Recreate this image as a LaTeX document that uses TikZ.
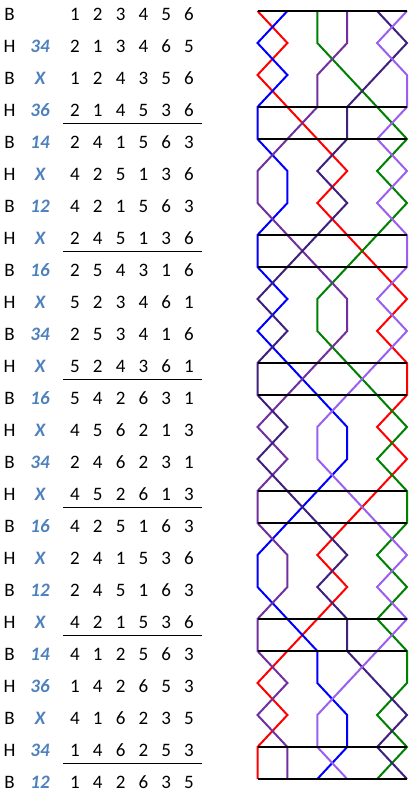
\documentclass[tikz,border=0pt]{standalone}
\usepackage{fontspec}
\setmainfont{Carlito}
\definecolor{labblue}{HTML}{4F81BD}
\definecolor{cA}{HTML}{FF0000}
\definecolor{cB}{HTML}{0000FF}
\definecolor{cC}{HTML}{008000}
\definecolor{cD}{HTML}{7030A0}
\definecolor{cE}{HTML}{40207F}
\definecolor{cF}{HTML}{9960F0}
\begin{document}
\begin{tikzpicture}[x=1pt,y=-1pt,
  lt/.style={anchor=base,inner sep=0pt,font=\fontsize{19}{23}\selectfont},
  pn/.style={anchor=base,inner sep=0pt,font=\fontsize{19}{23}\selectfont\bfseries\itshape,text=labblue},
  dg/.style={anchor=base,inner sep=0pt,font=\fontsize{19}{23}\selectfont},
  ul/.style={line width=1pt},
  bar/.style={line width=2.4pt},
  bell/.style={line width=2pt}]
\useasboundingbox (0,0) rectangle (415,797);
% table
\foreach \r/\pl/\lab/\a/\b/\c/\d/\e/\f in {
  0/B/{}/1/2/3/4/5/6,
  1/H/34/2/1/3/4/6/5,
  2/B/X/1/2/4/3/5/6,
  3/H/36/2/1/4/5/3/6,
  4/B/14/2/4/1/5/6/3,
  5/H/X/4/2/5/1/3/6,
  6/B/12/4/2/1/5/6/3,
  7/H/X/2/4/5/1/3/6,
  8/B/16/2/5/4/3/1/6,
  9/H/X/5/2/3/4/6/1,
  10/B/34/2/5/3/4/1/6,
  11/H/X/5/2/4/3/6/1,
  12/B/16/5/4/2/6/3/1,
  13/H/X/4/5/6/2/1/3,
  14/B/34/2/4/6/2/3/1,
  15/H/X/4/5/2/6/1/3,
  16/B/16/4/2/5/1/6/3,
  17/H/X/2/4/1/5/3/6,
  18/B/12/2/4/5/1/6/3,
  19/H/X/4/2/1/5/3/6,
  20/B/14/4/1/2/5/6/3,
  21/H/36/1/4/2/6/5/3,
  22/B/X/4/1/6/2/3/5,
  23/H/34/1/4/6/2/5/3,
  24/B/12/1/4/2/6/3/5}{
  \node[lt] (s\r) at (9.5,{20.7+32*\r}) {\pl};
  \node[pn] (n\r) at (40,{20.7+32*\r}) {\lab};
  \foreach[count=\i from 0] \dd in {\a,\b,\c,\d,\e,\f}
    \node[dg] (d\r-\i) at ({75+22.8*\i},{20.7+32*\r}) {\dd};
}
\foreach \r in {3,7,11,15,19,23}
  \draw[ul] (63,{27.2+32*\r}) -- (202,{27.2+32*\r});
% bell paths
\draw[bell,cA] (257.5,11) \foreach[count=\r] \p in {2,1,2,3,4,3,4,5,6,5,6,6,5,6,5,4,3,4,3,2,1,2,1,1} {-- ({257.5+29.9*(\p-1)},{11+32*\r})};
\draw[bell,cB] (287.4,11) \foreach[count=\r] \p in {1,2,1,1,2,2,1,1,2,1,2,3,4,4,3,2,1,1,2,3,3,4,4,3} {-- ({257.5+29.9*(\p-1)},{11+32*\r})};
\draw[bell,cC] (317.3,11) \foreach[count=\r] \p in {3,4,5,6,5,6,5,4,3,3,4,5,6,5,6,6,5,6,5,6,6,5,6,5} {-- ({257.5+29.9*(\p-1)},{11+32*\r})};
\draw[bell,cD] (347.2,11) \foreach[count=\r] \p in {4,3,3,2,1,1,2,3,4,4,3,2,1,2,1,1,2,2,1,1,2,1,2,2} {-- ({257.5+29.9*(\p-1)},{11+32*\r})};
\draw[bell,cE] (377.1,11) \foreach[count=\r] \p in {6,5,4,4,3,4,3,2,1,2,1,1,2,1,2,3,4,3,4,4,5,6,5,6} {-- ({257.5+29.9*(\p-1)},{11+32*\r})};
\draw[bell,cF] (407,11) \foreach[count=\r] \p in {5,6,6,5,6,5,6,6,5,6,5,4,3,3,4,5,6,5,6,5,4,3,3,4} {-- ({257.5+29.9*(\p-1)},{11+32*\r})};
% lead lines
\foreach \r in {0,3,4,7,8,11,12,15,16,19,20,23,24}
  \draw[bar] (257.5,{11+32*\r}) -- (407,{11+32*\r});
\end{tikzpicture}
\end{document}
